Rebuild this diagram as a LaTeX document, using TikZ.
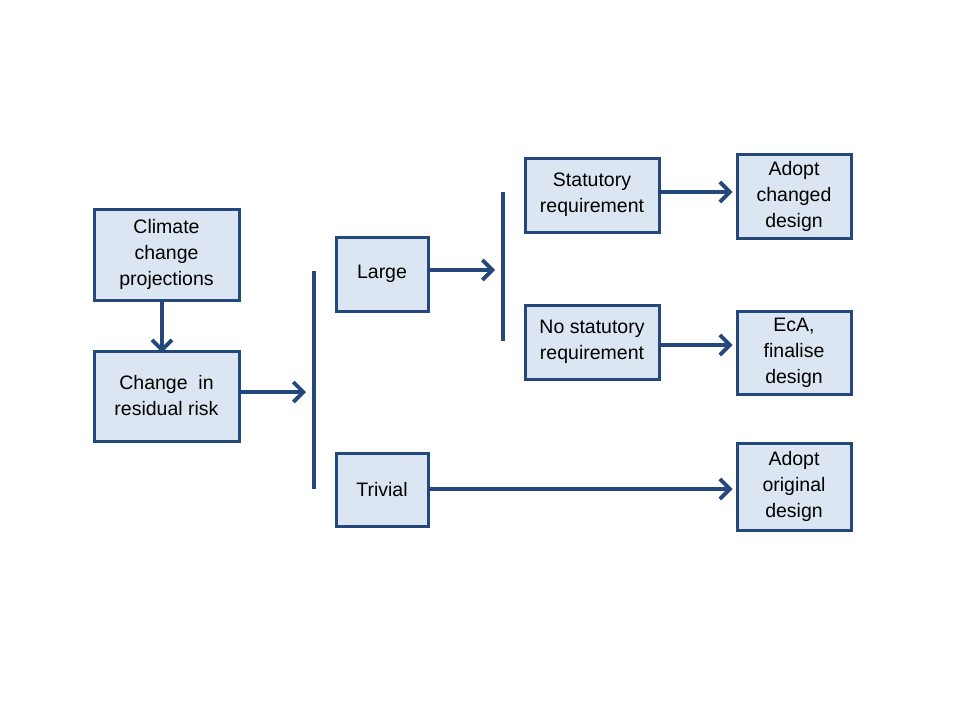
\documentclass[tikz,border=0pt]{standalone}
\usepackage{fontspec}
\setmainfont{Liberation Sans}
\usetikzlibrary{arrows.meta}
\definecolor{edge}{RGB}{36,72,124}
\definecolor{boxfill}{RGB}{220,230,242}
\tikzset{
  box/.style={draw=edge, fill=boxfill, line width=3pt, align=center, inner sep=0pt,
    font=\fontsize{19.5}{26}\selectfont},
  conn/.style={draw=edge, line width=3.8pt, -{Straight Barb[length=10pt,width=20pt,line width=3.8pt]}},
  barline/.style={draw=edge, line width=3.8pt}
}
\begin{document}
\begin{tikzpicture}[x=1pt,y=-1pt]
\useasboundingbox (0,0) rectangle (960,720);
\node[box, minimum width=145pt, minimum height=91pt] (clim) at (166.5,254.5) {Climate\\change\\projections};
\node[box, minimum width=145pt, minimum height=90pt] (chg) at (166.5,396) {Change\ \ in\\residual risk};
\node[box, minimum width=92pt, minimum height=74pt] (large) at (382,274) {Large};
\node[box, minimum width=92pt, minimum height=73pt] (triv) at (382,489.5) {Trivial};
\node[box, minimum width=134pt, minimum height=74pt] (stat) at (592,195) {Statutory\\requirement};
\node[box, minimum width=134pt, minimum height=74pt] (nostat) at (592,342) {No statutory\\requirement};
\node[box, minimum width=114pt, minimum height=84pt] (adch) at (794,196) {Adopt\\changed\\design};
\node[box, minimum width=114pt, minimum height=83pt] (eca) at (794,352.5) {EcA,\\finalise\\design};
\node[box, minimum width=114pt, minimum height=87pt] (ador) at (794,486.5) {Adopt\\original\\design};
\coordinate (b1t) at (314,271);
\coordinate (b1b) at (314,489);
\coordinate (b2t) at (503,192);
\coordinate (b2b) at (503,341);
\coordinate (a1) at (306,392);
\coordinate (a2) at (495,270);
\coordinate (c1) at (162,300);
\draw[barline] (b1t) -- (b1b);
\draw[barline] (b2t) -- (b2b);
\draw[conn] (clim.south -| c1) -- ([yshift=-3pt]chg.north -| c1);
\draw[conn] (chg.east |- a1) -- (a1);
\draw[conn] (large.east |- a2) -- (a2);
\draw[conn] (stat.east |- 0,192) -- ([xshift=-3pt]adch.west |- 0,192);
\draw[conn] (nostat.east |- 0,345) -- ([xshift=-3pt]eca.west |- 0,345);
\draw[conn] (triv.east |- 0,489) -- ([xshift=-3pt]ador.west |- 0,489);
\end{tikzpicture}
\end{document}
